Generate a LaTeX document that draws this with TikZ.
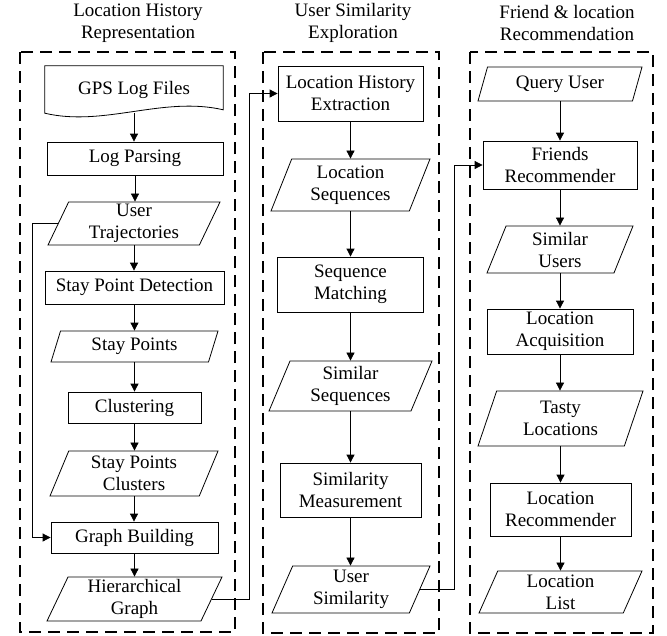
\documentclass[tikz,border=0pt]{standalone}
\usepackage{fontspec}
\setmainfont{Liberation Serif}
\usetikzlibrary{shapes.geometric,arrows.meta}
\tikzset{
  fs/.style={font=\fontsize{19}{22}\selectfont},
  box/.style={fs, draw, rectangle, line width=0.8pt, inner sep=1pt, align=center},
  para/.style={fs, draw, trapezium, trapezium left angle=63, trapezium right angle=117,
    trapezium stretches body, line width=0.8pt, inner sep=1pt, align=center},
  plain/.style={fs, rectangle, inner sep=1pt, align=center},
  arr/.style={-{Triangle[length=8pt,width=8pt]}, line width=0.8pt},
  group/.style={draw, dash pattern=on 12pt off 7pt, line width=1.8pt},
  ttl/.style={fs, align=center, inner sep=0pt}
}
\begin{document}
\begin{tikzpicture}[x=1pt,y=-1pt]
\useasboundingbox (0,0) rectangle (667,635);
% titles
\node[ttl] (t1) at (138,23) {Location History\\Representation};
\node[ttl] (t2) at (353,23) {User Similarity\\Exploration};
\node[ttl] (t3) at (567,23) {Friend \& location\\Recommendation};
% groups
\draw[group] (20,52) rectangle (235,632);
\draw[group] (263,52) rectangle (439,633);
\draw[group] (470,52) rectangle (653,633);
% column 1
\node[plain, minimum width=178, minimum height=47] (gps) at (134,89.5) {GPS Log Files};
\draw[line width=0.8pt] (gps.north west) -- (gps.north east) -- ++(0,44)
  .. controls +(-60,-14) and +(59,14) .. (gps.south west) -- cycle;
\node[box, minimum width=176, minimum height=33] (logp) at (135,158.5) {Log Parsing};
\node[para, minimum width=172, minimum height=43] (traj) at (134,223.5) {User\\Trajectories};
\node[box, minimum width=179, minimum height=33] (spd) at (134.5,287.5) {Stay Point Detection};
\node[para, minimum width=167, minimum height=31] (sp) at (134.5,346.5) {Stay Points};
\node[box, minimum width=133, minimum height=31] (clu) at (134.5,407.5) {Clustering};
\node[para, minimum width=168, minimum height=45] (spc) at (134,473.5) {Stay Points\\Clusters};
\node[box, minimum width=167, minimum height=31] (gb) at (134.5,537.5) {Graph Building};
\node[para, minimum width=175, minimum height=44] (hg) at (134.5,599) {Hierarchical\\Graph};
% column 2
\node[box, minimum width=145, minimum height=55] (lhe) at (350.5,93.5) {Location History\\Extraction};
\node[para, minimum width=159, minimum height=52] (ls) at (350.5,185) {Location\\Sequences};
\node[box, minimum width=146, minimum height=55] (sm) at (350.5,284.5) {Sequence\\Matching};
\node[para, minimum width=163, minimum height=50] (ss) at (350.5,386) {Similar\\Sequences};
\node[box, minimum width=141, minimum height=54] (smm) at (350.5,490) {Similarity\\Measurement};
\node[para, minimum width=158, minimum height=47] (us) at (351,589.5) {User\\Similarity};
% column 3
\node[para, minimum width=164, minimum height=34] (qu) at (560,84) {Query User};
\node[box, minimum width=154, minimum height=48] (fr) at (560,165) {Friends\\Recommender};
\node[para, minimum width=146, minimum height=47] (su) at (560,249.5) {Similar\\Users};
\node[box, minimum width=146, minimum height=45] (la) at (560,331.5) {Location\\Acquisition};
\node[para, minimum width=165, minimum height=55] (tl) at (560.5,418.5) {Tasty\\Locations};
\node[box, minimum width=141, minimum height=53] (lr) at (560.5,509.5) {Location\\Recommender};
\node[para, minimum width=163, minimum height=42] (ll) at (560.5,592) {Location\\List};
% vertical arrows
\foreach \a/\b in {gps/logp,logp/traj,traj/spd,spd/sp,sp/clu,clu/spc,spc/gb,gb/hg,
  lhe/ls,ls/sm,sm/ss,ss/smm,smm/us,qu/fr,fr/su,su/la,la/tl,tl/lr,lr/ll}
  \draw[arr] (\a.south) -- (\a.south |- \b.north);
% cross connectors
\draw[arr] (traj.west) -- ++(-25,0) |- (gb.west);
\coordinate (j1) at (249,0);
\coordinate (j2) at (454,0);
\draw[arr] (hg.east) -| (j1 |- lhe.west) -- (lhe.west);
\draw[arr] (us.east) -| (j2 |- fr.west) -- (fr.west);
\end{tikzpicture}
\end{document}
